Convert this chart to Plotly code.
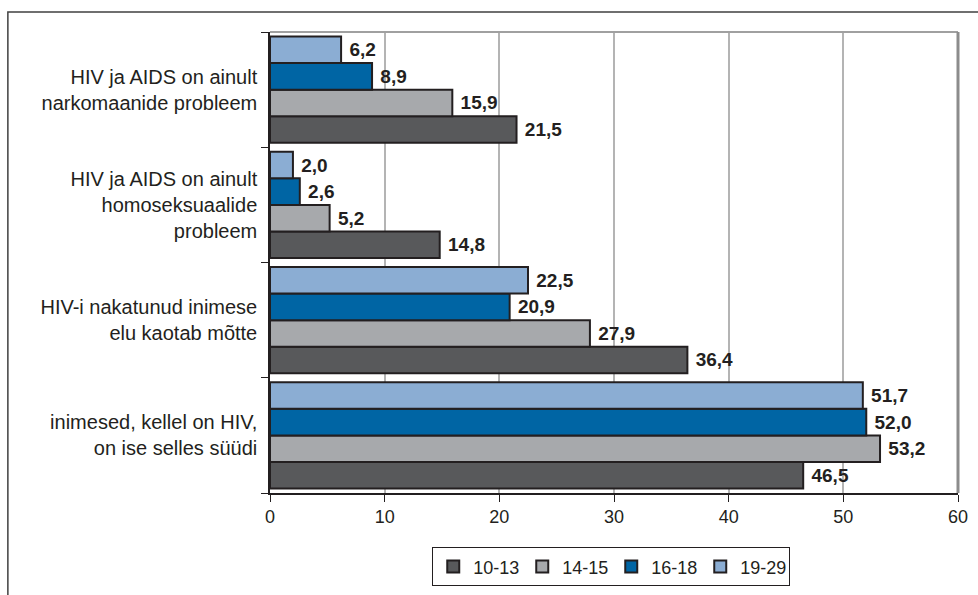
import plotly.graph_objects as go

# categories from bottom to top (plotly draws the first category at the bottom)
categories = [
    "inimesed, kellel on HIV,<br>on ise selles süüdi",
    "HIV-i nakatunud inimese<br>elu kaotab mõtte",
    "HIV ja AIDS on ainult<br>homoseksuaalide<br>probleem",
    "HIV ja AIDS on ainult<br>narkomaanide probleem",
]

age_groups = ["10-13", "14-15", "16-18", "19-29"]
colors = ["#58595b", "#a7a9ac", "#0065a4", "#8badd3"]

vals_10_13 = [46.5, 36.4, 14.8, 21.5]
vals_14_15 = [53.2, 27.9, 5.2, 15.9]
vals_16_18 = [52.0, 20.9, 2.6, 8.9]
vals_19_29 = [51.7, 22.5, 2.0, 6.2]

series = [vals_10_13, vals_14_15, vals_16_18, vals_19_29]

fig = go.Figure()
for name, vals, col in zip(age_groups, series, colors):
    fig.add_trace(go.Bar(
        y=categories,
        x=vals,
        name=name,
        orientation="h",
        marker=dict(color=col, line=dict(color="#231f20", width=2)),
        texttemplate=" %{x:.1f}",
        textposition="outside",
        textfont=dict(family="Liberation Sans, Arial", size=19, color="#231f20", weight="bold"),
        cliponaxis=False,
    ))

fig.update_layout(
    barmode="group",
    bargap=0.08,
    bargroupgap=0,
    separators=",.",
    width=978,
    height=595,
    margin=dict(l=270, r=20, t=32, b=102, autoexpand=False),
    plot_bgcolor="white",
    paper_bgcolor="white",
    font=dict(family="Liberation Sans, Arial", size=20, color="#231f20"),
    showlegend=True,
    legend=dict(
        orientation="h",
        x=0.496, xanchor="center",
        y=-0.118, yanchor="top",
        traceorder="normal",
        bordercolor="#231f20",
        borderwidth=1,
        font=dict(size=18),
        itemwidth=30,
        entrywidth=44,
        tracegroupgap=0,
    ),
    xaxis=dict(
        range=[0, 60],
        tickvals=[0, 10, 20, 30, 40, 50, 60],
        showgrid=True,
        gridcolor="#b4b4b4",
        gridwidth=1.5,
        showline=True,
        linecolor="#231f20",
        linewidth=1.5,
        ticks="outside",
        ticklen=7,
        tickcolor="#231f20",
        tickfont=dict(size=18),
        zeroline=False,
    ),
    yaxis=dict(
        categoryorder="array",
        categoryarray=categories,
        showline=True,
        linecolor="#231f20",
        linewidth=1.5,
        ticks="outside",
        tickson="boundaries",
        ticklen=7,
        tickcolor="#231f20",
        tickfont=dict(size=20),
        ticklabelstandoff=7,
    ),
    shapes=[
        # outer frame of the figure
        dict(type="rect", xref="paper", yref="paper",
             x0=-0.381, x1=1.2, y0=-0.4, y1=1.0434,
             line=dict(color="#404040", width=1.5)),
        # gray top and right border of plot area
        dict(type="line", xref="paper", yref="paper",
             x0=0, x1=1, y0=1, y1=1,
             line=dict(color="#a0a0a0", width=2)),
        dict(type="line", xref="paper", yref="paper",
             x0=1, x1=1, y0=0, y1=1,
             line=dict(color="#8c8c8c", width=3)),
    ],
)

fig.write_html("out.html", config={"displayModeBar": False},
               post_script="document.body.style.margin='0';")
